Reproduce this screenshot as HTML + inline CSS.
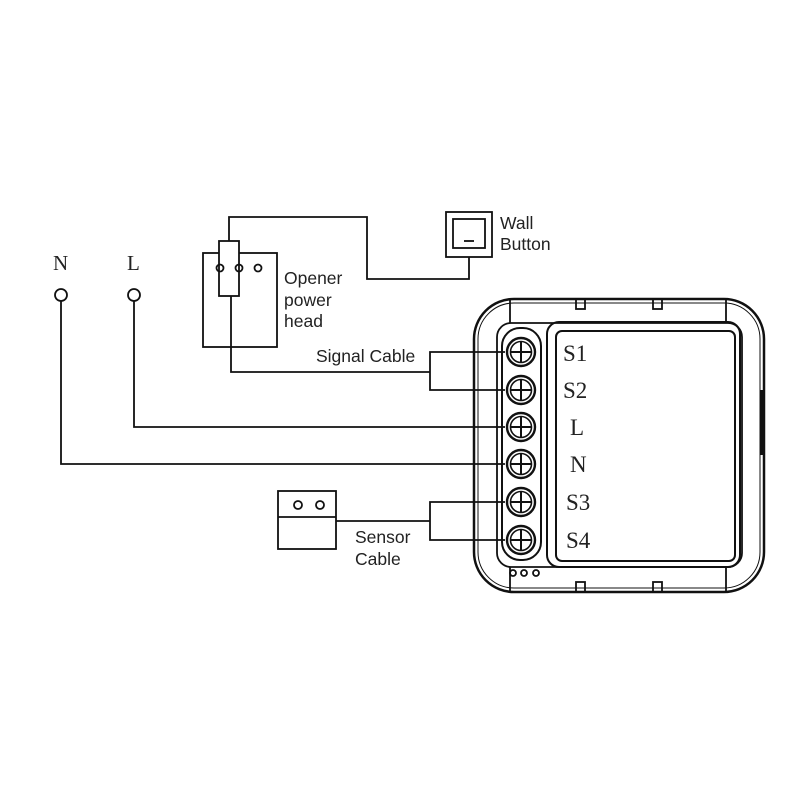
<!DOCTYPE html>
<html><head><style>body{margin:0;background:#fff}svg{display:block}</style></head><body>
<svg width="800" height="800" viewBox="0 0 800 800" xmlns="http://www.w3.org/2000/svg" fill="none" stroke="#111" stroke-width="1.8">
<g font-family="Liberation Serif, serif" fill="#222" stroke="none" font-size="21">
<text x="53" y="270">N</text><text x="127" y="270">L</text>
</g>
<circle cx="61" cy="295" r="6"/><circle cx="134" cy="295" r="6"/>
<polyline points="61,301 61,464 505,464"/>
<polyline points="134,301 134,427 505,427"/>
<!-- opener -->
<rect x="203" y="253" width="74" height="94"/>
<rect x="219" y="241" width="20" height="55" fill="#fff"/>
<circle cx="220" cy="268" r="3.5"/><circle cx="239" cy="268" r="3.5"/><circle cx="258" cy="268" r="3.5"/>
<polyline points="229,241 229,217 367,217 367,279 469,279 469,257"/>
<rect x="446" y="212" width="46" height="45"/>
<rect x="453" y="219" width="32" height="29"/>
<line x1="464" y1="241" x2="474" y2="241"/>
<polyline points="231,296 231,372 430,372"/>
<polyline points="505,352 430,352 430,390 505,390"/>
<!-- sensor -->
<rect x="278" y="491" width="58" height="58"/>
<line x1="278" y1="517" x2="336" y2="517"/>
<circle cx="298" cy="505" r="4"/><circle cx="320" cy="505" r="4"/>
<polyline points="336,521 430,521"/>
<polyline points="505,502 430,502 430,540 505,540"/>
<g font-family="Liberation Sans, sans-serif" fill="#222" stroke="none" font-size="17.5">
<text x="500" y="229">Wall</text><text x="500" y="250">Button</text>
<text x="284" y="284">Opener</text><text x="284" y="306">power</text><text x="284" y="327">head</text>
<text x="316" y="362">Signal Cable</text>
<text x="355" y="543">Sensor</text><text x="355" y="565">Cable</text>
</g>
<!-- device -->
<rect x="474" y="299" width="290" height="293" rx="40" stroke-width="2.5"/>
<rect x="478" y="303" width="282" height="285" rx="36" stroke-width="1"/>
<line x1="510" y1="299" x2="510" y2="323"/><line x1="726" y1="299" x2="726" y2="323"/>
<line x1="510" y1="567" x2="510" y2="592"/><line x1="726" y1="567" x2="726" y2="592"/>
<rect x="576" y="299" width="9" height="10"/><rect x="653" y="299" width="9" height="10"/>
<rect x="576" y="582" width="9" height="10"/><rect x="653" y="582" width="9" height="10"/>
<rect x="497" y="323" width="245" height="244" rx="14"/>
<rect x="502" y="328" width="39" height="232" rx="18" stroke-width="2"/>
<rect x="547" y="322" width="193" height="245" rx="12" stroke-width="2"/>
<rect x="556" y="331" width="179" height="230" rx="6" stroke-width="2"/>
<line x1="762" y1="390" x2="762" y2="455" stroke-width="3"/>
<circle cx="513" cy="573" r="3"/><circle cx="524" cy="573" r="3"/><circle cx="536" cy="573" r="3"/>
<g stroke-width="1.6">
<g id="t"><circle cx="521" cy="352" r="14" stroke-width="2.4"/><circle cx="521" cy="352" r="10.5"/><line x1="511" y1="352" x2="531" y2="352" stroke-width="2"/><line x1="521" y1="342" x2="521" y2="362" stroke-width="2"/></g>
<use href="#t" y="38"/><use href="#t" y="75"/><use href="#t" y="112"/><use href="#t" y="150"/><use href="#t" y="188"/>
</g>
<g font-family="Liberation Serif, serif" fill="#222" stroke="none" font-size="23">
<text x="563" y="361">S1</text><text x="563" y="398">S2</text><text x="570" y="435">L</text>
<text x="570" y="472">N</text><text x="566" y="510">S3</text><text x="566" y="548">S4</text>
</g>
</svg>
</body></html>
